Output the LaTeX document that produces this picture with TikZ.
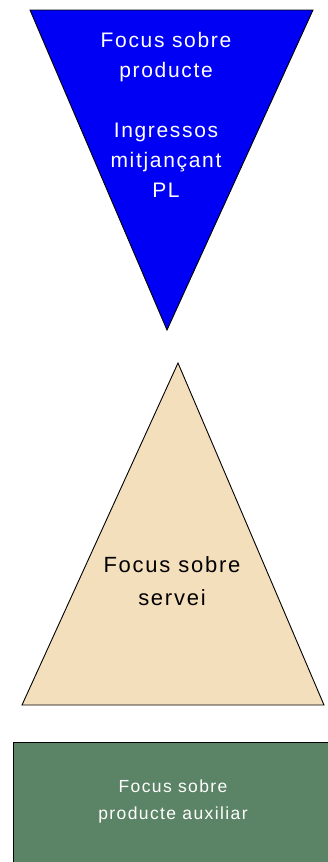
\documentclass[tikz,border=0pt]{standalone}
\usepackage{fontspec}
\setmainfont{Liberation Sans}[LetterSpace=8]
\definecolor{focusblue}{RGB}{0,0,245}
\definecolor{focusbeige}{RGB}{244,223,189}
\definecolor{focusgreen}{RGB}{91,131,101}
\begin{document}
\begin{tikzpicture}[x=1pt,y=-1pt,
    shapeline/.style={draw=black,line width=0.9pt,line join=miter},
    label/.style={align=center,inner sep=0pt}]
        \useasboundingbox (0,0) rectangle (328,862);
        \clip (0,0) rectangle (328,862);
        % producte
        \filldraw[shapeline,fill=focusblue] (30,10)--(313,10)--(167,330)--cycle;
        \node[label,text=white,font=\fontsize{21}{30}\selectfont] (prod) at (166,115)
          {Focus sobre\\producte\\[30pt]Ingressos\\mitjançant\\PL};
        % servei
        \filldraw[shapeline,fill=focusbeige] (178,363)--(324,705)--(22,705)--cycle;
        \node[label,text=black,font=\fontsize{22}{33}\selectfont] (serv) at (172,581)
          {Focus sobre\\servei};
        % producte auxiliar
        \filldraw[shapeline,fill=focusgreen] (13,742) rectangle (340,880);
        \node[label,text=white,font=\fontsize{17.5}{27}\selectfont] (aux) at (173,801)
          {Focus sobre\\producte auxiliar};
\end{tikzpicture}
\end{document}
